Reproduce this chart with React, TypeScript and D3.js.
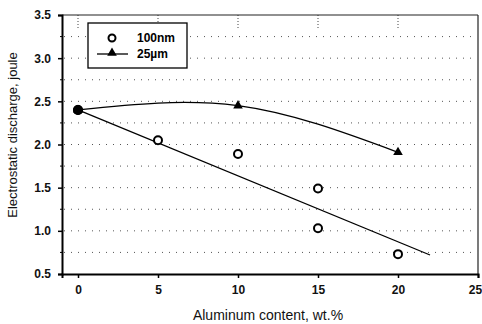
import React, { useEffect, useRef } from 'react';
import * as d3 from 'd3';

const xTicks = [0, 5, 10, 15, 20, 25];
const yTicks = [0.5, 1.0, 1.5, 2.0, 2.5, 3.0, 3.5];
const gridLevels = [0.75, 1.0, 1.25, 1.5, 1.75, 2.0, 2.25, 2.5, 2.75, 3.0, 3.25];

// 100nm: open circles
const nmX = [0, 5, 10, 15, 15, 20];
const nmY = [2.4, 2.05, 1.89, 1.49, 1.03, 0.73];
// linear trend drawn for 100nm
const nmTrendX = [0, 22];
const nmTrendY = [2.4, 0.72];

// 25um: filled triangles with a smooth curve
const umX = [0, 10, 20];
const umY = [2.4, 2.45, 1.91];

const FONT = 'Arial, "Liberation Sans", sans-serif';

export default function App() {
  const svgRef = useRef<SVGSVGElement>(null);

  useEffect(() => {
    const svg = d3.select(svgRef.current);
    svg.selectAll('*').remove();

    const left = 62, right = 478, top = 15, bottom = 274;
    const x = d3.scaleLinear().domain([-1, 25]).range([left, right]);
    const y = d3.scaleLinear().domain([0.5, 3.5]).range([bottom, top]);

    svg.append('rect').attr('width', 482).attr('height', 324).attr('fill', '#fff');

    // dotted horizontal grid
    svg.append('g').selectAll('line').data(gridLevels).enter().append('line')
      .attr('x1', left + 2).attr('x2', right - 2)
      .attr('y1', d => y(d)).attr('y2', d => y(d))
      .attr('stroke', '#555').attr('stroke-width', 1).attr('stroke-dasharray', '1,6');

    // short vertical dotted marks near top
    svg.append('g').selectAll('line').data(xTicks.slice(0, 5)).enter().append('line')
      .attr('x1', d => x(d)).attr('x2', d => x(d))
      .attr('y1', y(3.5)).attr('y2', y(3.33))
      .attr('stroke', '#444').attr('stroke-width', 1).attr('stroke-dasharray', '1,2');

    // frame
    svg.append('line').attr('x1', left).attr('x2', right).attr('y1', top).attr('y2', top)
      .attr('stroke', '#222').attr('stroke-width', 1.2);
    svg.append('line').attr('x1', right).attr('x2', right).attr('y1', top).attr('y2', bottom)
      .attr('stroke', '#222').attr('stroke-width', 1.2);

    // axes
    const xAxis = svg.append('g').attr('transform', `translate(0,${bottom})`)
      .call(d3.axisBottom(x).tickValues(xTicks).tickSize(4).tickFormat(d3.format('d')));
    xAxis.select('.domain').attr('stroke', '#000').attr('stroke-width', 2);
    xAxis.selectAll('.tick line').attr('stroke', '#000').attr('stroke-width', 1.5);
    xAxis.selectAll('text').attr('font-family', FONT).attr('font-size', 12).attr('font-weight', 'bold')
      .attr('fill', '#111').attr('dy', '1.1em')
      .attr('dx', (d: any) => (d === 25 ? -3 : 0));

    const yAxis = svg.append('g').attr('transform', `translate(${left},0)`)
      .call(d3.axisLeft(y).tickValues(yTicks).tickSize(4).tickFormat(d3.format('.1f')));
    yAxis.select('.domain').attr('stroke', '#000').attr('stroke-width', 2);
    yAxis.selectAll('.tick line').attr('stroke', '#000').attr('stroke-width', 1.5);
    yAxis.selectAll('text').attr('font-family', FONT).attr('font-size', 12).attr('font-weight', 'bold')
      .attr('fill', '#111').attr('x', -11);

    // minor y ticks
    svg.append('g').selectAll('line').data(gridLevels.filter(v => v % 0.5 !== 0)).enter().append('line')
      .attr('x1', left - 2).attr('x2', left).attr('y1', d => y(d)).attr('y2', d => y(d))
      .attr('stroke', '#000');

    // trend lines
    const line = d3.line<[number, number]>().x(d => x(d[0])).y(d => y(d[1]));
    svg.append('path')
      .datum(nmTrendX.map((v, i) => [v, nmTrendY[i]] as [number, number]))
      .attr('d', line).attr('fill', 'none').attr('stroke', '#000').attr('stroke-width', 1.3);
    svg.append('path')
      .datum(umX.map((v, i) => [v, umY[i]] as [number, number]))
      .attr('d', line.curve(d3.curveNatural)).attr('fill', 'none').attr('stroke', '#000').attr('stroke-width', 1.3);

    // 100nm circles
    svg.append('g').selectAll('circle').data(nmX.map((v, i) => [v, nmY[i]])).enter().append('circle')
      .attr('cx', d => x(d[0])).attr('cy', d => y(d[1])).attr('r', 4)
      .attr('fill', d => umX.some((u, j) => u === d[0] && umY[j] === d[1]) ? '#000' : '#fff')
      .attr('stroke', '#000').attr('stroke-width', 2);

    // 25um triangles
    const tri = d3.symbol().type(d3.symbolTriangle).size(40);
    svg.append('g').selectAll('path').data(umX.map((v, i) => [v, umY[i]])).enter().append('path')
      .attr('d', tri).attr('transform', d => `translate(${x(d[0])},${y(d[1])})`).attr('fill', '#000');
    svg.append('circle').attr('cx', x(umX[0])).attr('cy', y(umY[0])).attr('r', 5).attr('fill', '#000');

    // legend
    const lg = svg.append('g');
    lg.append('rect').attr('x', 88).attr('y', 23).attr('width', 99).attr('height', 45)
      .attr('fill', '#fff').attr('stroke', '#000').attr('stroke-width', 1.3);
    lg.append('circle').attr('cx', 112).attr('cy', 38).attr('r', 3.5).attr('fill', '#fff')
      .attr('stroke', '#000').attr('stroke-width', 2);
    lg.append('line').attr('x1', 97).attr('x2', 128).attr('y1', 54).attr('y2', 54)
      .attr('stroke', '#000').attr('stroke-width', 1.3);
    lg.append('path').attr('d', tri).attr('transform', 'translate(112,53)').attr('fill', '#000');
    lg.append('text').attr('x', 137).attr('y', 42).text('100nm')
      .attr('font-family', FONT).attr('font-size', 12).attr('font-weight', 'bold');
    lg.append('text').attr('x', 137).attr('y', 58).text('25µm')
      .attr('font-family', FONT).attr('font-size', 12).attr('font-weight', 'bold');

    // axis titles
    svg.append('text').attr('x', 268).attr('y', 320).attr('text-anchor', 'middle')
      .text('Aluminum content, wt.%')
      .attr('font-family', FONT).attr('font-size', 14).attr('fill', '#111');
    svg.append('text').attr('transform', 'translate(17,135) rotate(-90)').attr('text-anchor', 'middle')
      .text('Electrostatic discharge, joule')
      .attr('font-family', FONT).attr('font-size', 13).attr('fill', '#111');
  }, []);

  return (
    <svg ref={svgRef} width={482} height={324}
      style={{ position: 'absolute', left: 0, top: 0, display: 'block' }} />
  );
}
